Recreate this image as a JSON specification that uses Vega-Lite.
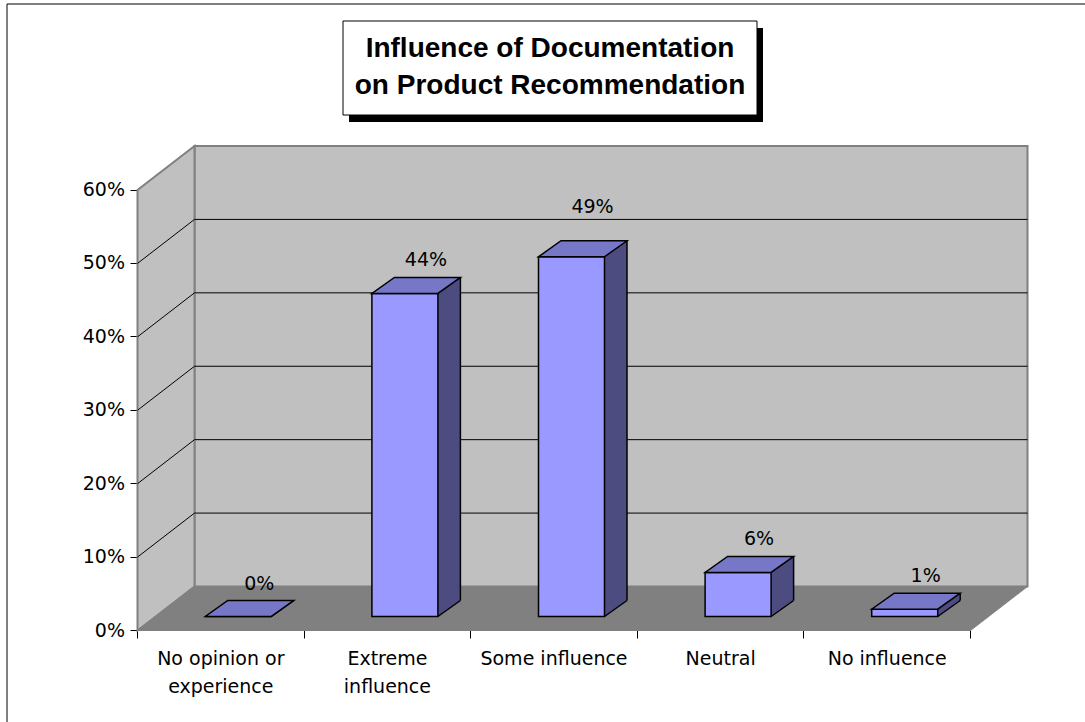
{
  "$schema": "https://vega.github.io/schema/vega-lite/v6.json",
  "width": 1081.5,
  "height": 721.5,
  "autosize": {"type": "none"},
  "padding": {"left": 6.5, "top": 3.5, "right": -3, "bottom": -3},
  "background": "white",
  "config": {
    "view": {"stroke": "black", "strokeWidth": 1},
    "axisY": {
      "offset": -131, "translate": 0, "grid": false, "zindex": 1,
      "domainColor": "black", "domainWidth": 1,
      "tickColor": "black", "tickSize": 7, "tickWidth": 1,
      "labelFont": "DejaVu Sans", "labelFontSize": 19, "labelColor": "black", "labelPadding": 5.5
    },
    "axisX": {
      "offset": -94.5, "translate": 0, "grid": false, "zindex": 1,
      "domainColor": "black", "domainWidth": 1,
      "tickColor": "black", "tickSize": 8, "tickWidth": 1, "tickBand": "extent",
      "labelAngle": 0, "labelFont": "DejaVu Sans", "labelFontSize": 19, "labelColor": "black",
      "labelPadding": 11, "labelLineHeight": 28, "labelBaseline": "top"
    }
  },
  "datasets": {
    "shares": [
      {"category": "No opinion or experience", "share": 0},
      {"category": "Extreme influence", "share": 0.44},
      {"category": "Some influence", "share": 0.49},
      {"category": "Neutral", "share": 0.06},
      {"category": "No influence", "share": 0.01}
    ],
    "gridlines": [{"level": 0.1}, {"level": 0.2}, {"level": 0.3}, {"level": 0.4}, {"level": 0.5}],
    "frame": [{}]
  },
  "layer": [
    {
      "data": {"name": "frame"},
      "mark": {"type": "point", "shape": "M-26.3,-44 L806.7,-44 L806.7,-484.5 L-26.3,-484.5 Z", "size": 4, "filled": true, "fill": "#C0C0C0", "stroke": "#808080", "strokeWidth": 2, "opacity": 1},
      "encoding": {
        "x": {"datum": "No opinion or experience", "type": "nominal", "title": null, "scale": {"domain": ["No opinion or experience", "Extreme influence", "Some influence", "Neutral", "No influence"], "range": [131, 964], "paddingInner": 0, "paddingOuter": 0}},
        "y": {"datum": 0, "type": "quantitative", "title": null, "scale": {"domain": [0, 0.6], "range": [627, 186.5], "nice": false}}
      }
    },
    {
      "data": {"name": "frame"},
      "mark": {"type": "point", "shape": "M-83.3,0 L-83.3,-440.5 L-26.3,-484.5 L-26.3,-44 Z", "size": 4, "filled": true, "fill": "#C0C0C0", "stroke": "#808080", "strokeWidth": 2, "opacity": 1},
      "encoding": {
        "x": {"datum": "No opinion or experience", "type": "nominal", "title": null},
        "y": {"datum": 0, "type": "quantitative", "title": null}
      }
    },
    {
      "data": {"name": "gridlines"},
      "mark": {"type": "point", "shape": "M-83.3,0 L-26.3,-44 L806.7,-44", "size": 4, "filled": false, "fill": "transparent", "stroke": "black", "strokeWidth": 1, "opacity": 1},
      "encoding": {
        "x": {"datum": "No opinion or experience", "type": "nominal", "title": null},
        "y": {"field": "level", "type": "quantitative", "title": null}
      }
    },
    {
      "data": {"name": "frame"},
      "mark": {"type": "point", "shape": "M-83.3,0 L-26.3,-44 L806.7,-44 L749.7,0 Z", "size": 4, "filled": true, "fill": "#808080", "stroke": "#808080", "strokeWidth": 1, "opacity": 1},
      "encoding": {
        "x": {"datum": "No opinion or experience", "type": "nominal", "title": null},
        "y": {"datum": 0, "type": "quantitative", "title": null}
      }
    },
    {
      "data": {"name": "shares"},
      "mark": {"type": "bar", "width": 22.5, "xOffset": 61.75, "yOffset": -30, "y2Offset": -14, "fill": "#4C4C80", "strokeWidth": 0},
      "encoding": {
        "x": {"field": "category", "type": "nominal", "title": null},
        "y": {"field": "share", "type": "quantitative", "title": null},
        "y2": {"datum": 0}
      }
    },
    {
      "data": {"name": "shares"},
      "mark": {"type": "point", "shape": "M33,0 L33,1 L57,1 L57,-16 L55.5,-16 Z", "size": 4, "filled": true, "fill": "#808080", "strokeWidth": 0, "opacity": 1, "xOffset": 17.5, "yOffset": -14},
      "encoding": {
        "x": {"field": "category", "type": "nominal", "title": null},
        "y": {"datum": 0, "type": "quantitative", "title": null}
      }
    },
    {
      "data": {"name": "shares"},
      "mark": {"type": "bar", "width": 66, "xOffset": 17.5, "yOffset": -14, "y2Offset": -14, "fill": "#9999FF", "stroke": "black", "strokeWidth": 1.5},
      "encoding": {
        "x": {
          "field": "category", "type": "nominal", "title": null,
          "axis": {"labelExpr": "datum.label == 'No opinion or experience' ? ['No opinion or', 'experience'] : datum.label == 'Extreme influence' ? ['Extreme', 'influence'] : datum.label"}
        },
        "y": {
          "field": "share", "type": "quantitative", "title": null,
          "axis": {"values": [0, 0.1, 0.2, 0.3, 0.4, 0.5, 0.6], "format": ".0%"}
        },
        "y2": {"datum": 0}
      }
    },
    {
      "data": {"name": "shares"},
      "mark": {"type": "point", "shape": "M-33,0 L33,0 L55.5,-16 L-10.5,-16 Z", "size": 4, "filled": true, "fill": "#7777C7", "stroke": "black", "strokeWidth": 1.5, "opacity": 1, "xOffset": 17.5, "yOffset": -14},
      "encoding": {
        "x": {"field": "category", "type": "nominal", "title": null},
        "y": {"field": "share", "type": "quantitative", "title": null}
      }
    },
    {
      "data": {"name": "shares"},
      "mark": {"type": "rule", "stroke": "black", "strokeWidth": 1.5, "xOffset": 73, "yOffset": -30, "y2Offset": -30},
      "encoding": {
        "x": {"field": "category", "type": "nominal", "title": null},
        "y": {"field": "share", "type": "quantitative", "title": null},
        "y2": {"datum": 0}
      }
    },
    {
      "data": {"name": "shares"},
      "mark": {"type": "point", "shape": "M33,0 L55.5,-16", "size": 4, "filled": false, "fill": "transparent", "stroke": "black", "strokeWidth": 1.5, "opacity": 1, "xOffset": 17.5, "yOffset": -14},
      "encoding": {
        "x": {"field": "category", "type": "nominal", "title": null},
        "y": {"datum": 0, "type": "quantitative", "title": null}
      }
    },
    {
      "data": {"name": "shares"},
      "transform": [{"filter": "datum.share < 0.45"}],
      "mark": {"type": "text", "font": "DejaVu Sans", "fontSize": 19, "fill": "black", "align": "center", "baseline": "alphabetic", "dx": 38.5, "dy": -41},
      "encoding": {
        "x": {"field": "category", "type": "nominal", "title": null},
        "y": {"field": "share", "type": "quantitative", "title": null},
        "text": {"field": "share", "type": "quantitative", "format": ".0%"}
      }
    },
    {
      "data": {"name": "shares"},
      "transform": [{"filter": "datum.share >= 0.45"}],
      "mark": {"type": "text", "font": "DejaVu Sans", "fontSize": 19, "fill": "black", "align": "center", "baseline": "alphabetic", "dx": 38.5, "dy": -58},
      "encoding": {
        "x": {"field": "category", "type": "nominal", "title": null},
        "y": {"field": "share", "type": "quantitative", "title": null},
        "text": {"field": "share", "type": "quantitative", "format": ".0%"}
      }
    },
    {
      "data": {"name": "frame"},
      "mark": {"type": "point", "shape": "M-207,-169 L207,-169 L207,-75 L-207,-75 Z", "size": 4, "filled": true, "fill": "black", "strokeWidth": 0, "opacity": 1, "xOffset": 2, "yOffset": 7},
      "encoding": {
        "x": {"datum": "Some influence", "type": "nominal", "title": null},
        "y": {"datum": 0.6, "type": "quantitative", "title": null}
      }
    },
    {
      "data": {"name": "frame"},
      "mark": {"type": "point", "shape": "M-207,-169 L207,-169 L207,-75 L-207,-75 Z", "size": 4, "filled": true, "fill": "white", "stroke": "black", "strokeWidth": 1, "opacity": 1, "xOffset": -4},
      "encoding": {
        "x": {"datum": "Some influence", "type": "nominal", "title": null},
        "y": {"datum": 0.6, "type": "quantitative", "title": null}
      }
    },
    {
      "data": {"name": "frame"},
      "mark": {"type": "text", "font": "Liberation Sans", "fontWeight": "bold", "fontSize": 28, "lineHeight": 37, "fill": "black", "align": "center", "baseline": "alphabetic", "dx": -4, "dy": -133},
      "encoding": {
        "x": {"datum": "Some influence", "type": "nominal", "title": null},
        "y": {"datum": 0.6, "type": "quantitative", "title": null},
        "text": {"value": ["Influence of Documentation", "on Product Recommendation"]}
      }
    }
  ]
}
